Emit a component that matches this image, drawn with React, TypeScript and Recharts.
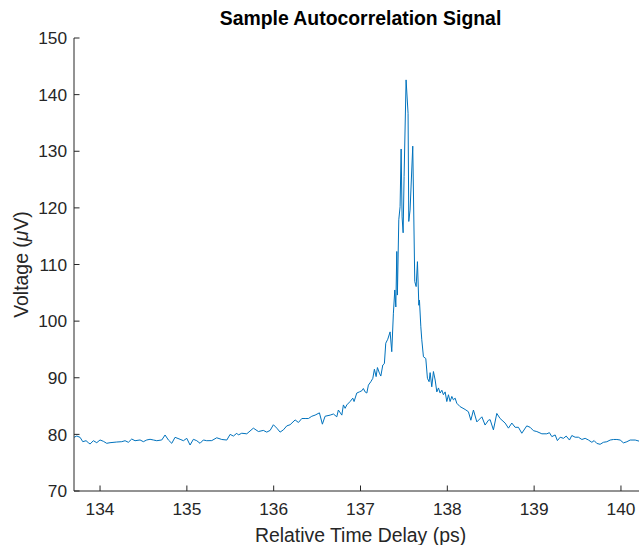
import React from 'react';
import { LineChart, Line, XAxis, YAxis } from 'recharts';

const chartTitle = 'Sample Autocorrelation Signal';
const xAxisTitle = 'Relative Time Delay (ps)';
const yAxisTitlePrefix = 'Voltage (';
const yAxisTitleMu = 'μ';
const yAxisTitleSuffix = 'V)';

const xTicks = [134, 135, 136, 137, 138, 139, 140];
const yTicks = [70, 80, 90, 100, 110, 120, 130, 140, 150];
const xDomain = [133.7, 140.3];
const yDomain = [70, 150];

// Relative time delay (ps)
const delayPs = [
  133.700, 133.732, 133.770, 133.801, 133.839, 133.865, 133.885, 133.923, 133.962, 134.000,
  134.038, 134.077, 134.115, 134.192, 134.250, 134.288, 134.326, 134.365, 134.403, 134.461,
  134.499, 134.538, 134.576, 134.614, 134.653, 134.711, 134.749, 134.787, 134.826, 134.864,
  134.922, 134.960, 134.999, 135.037, 135.075, 135.114, 135.152, 135.190, 135.229,
  135.287, 135.344, 135.402, 135.460, 135.498, 135.536, 135.575, 135.593, 135.632, 135.690,
  135.766, 135.824, 135.881, 135.920, 135.959, 135.997, 136.036, 136.074, 136.112, 136.151,
  136.189, 136.247, 136.285, 136.324, 136.362, 136.400, 136.439, 136.477, 136.527, 136.561,
  136.592, 136.650, 136.688, 136.727, 136.745, 136.785, 136.803,
  136.823, 136.842, 136.880, 136.911, 136.926, 136.957, 136.987, 137.015, 137.033, 137.053,
  137.073, 137.091, 137.119, 137.142, 137.160, 137.180, 137.195, 137.218, 137.234, 137.257,
  137.275, 137.291, 137.314, 137.341, 137.360, 137.379,
  137.395, 137.407, 137.418, 137.425, 137.441, 137.456, 137.468, 137.479, 137.491, 137.502,
  137.525, 137.548, 137.556, 137.571, 137.602, 137.625, 137.641, 137.656, 137.672, 137.679,
  137.695, 137.706, 137.725, 137.752, 137.771, 137.790, 137.802, 137.821, 137.840, 137.860,
  137.879, 137.898, 137.917, 137.937, 137.955, 137.975, 137.994, 138.013, 138.032, 138.052,
  138.070, 138.090, 138.109, 138.147, 138.205, 138.243, 138.271, 138.301, 138.340, 138.398,
  138.435, 138.474, 138.493, 138.531, 138.570, 138.608, 138.666, 138.704, 138.743, 138.781,
  138.819, 138.858, 138.915, 138.954,
  138.992, 139.031, 139.089, 139.146, 139.176, 139.204, 139.242, 139.268, 139.300, 139.338,
  139.369, 139.407, 139.434, 139.472, 139.510, 139.550, 139.588, 139.626, 139.665, 139.691,
  139.722, 139.760, 139.798, 139.837, 139.876, 139.914, 139.953, 139.991, 140.029, 140.068,
  140.106, 140.164, 140.210, 140.256, 140.300,
];

// Voltage (µV)
const voltageUv = [
  79.48, 79.71, 79.48, 78.71, 78.88, 78.53, 78.30, 78.88, 78.53, 79.01,
  78.78, 78.42, 78.53, 78.65, 78.71, 78.88, 78.60, 79.18, 78.88, 79.01,
  78.71, 79.01, 79.13, 79.01, 78.88, 79.01, 79.89, 79.01, 78.42, 79.48,
  79.13, 78.88, 79.30, 78.12, 79.13, 78.88, 78.42, 79.01, 78.88,
  78.9, 79.4, 79.1, 79.0, 80.0, 79.7, 80.2, 79.9, 80.2, 80.1,
  81.1, 80.5, 80.7, 80.4, 80.7, 81.7, 81.1, 80.4, 80.8, 81.5,
  81.7, 82.55, 82.1, 82.8, 82.8, 82.8, 83.2, 83.4, 83.8, 81.8,
  83.2, 83.4, 83.6, 83.1, 84.3, 83.4, 85.2,
  84.6, 85.2, 85.8, 86.4, 85.8, 87.3, 87.5, 87.7, 88.1, 87.5,
  87.3, 88.7, 89.3, 89.9, 91.5, 90.2, 91.8, 90.8, 90.3, 92.25,
  92.5, 96.1, 96.8, 98.1, 94.6, 101.4,
  105.5, 102.5, 112.3, 104.6, 117.9, 120.2, 130.4, 118.4, 115.6, 125.5,
  142.6, 136.7, 117.6, 119.6, 130.9, 107.0, 106.1, 110.5, 102.8, 103.7,
  99.0, 96.7, 93.7, 93.4, 89.9, 89.3, 90.9, 88.4, 91.1, 89.6,
  87.5, 88.2, 87.3, 87.8, 87.0, 87.5, 85.8, 87.0, 85.8, 86.7,
  86.1, 86.4, 85.5, 84.9, 84.4, 84.0, 82.5, 84.3, 82.2, 83.1,
  81.65, 82.5, 82.6, 80.8, 83.7, 82.8, 82.0, 81.1, 82.0, 81.25,
  81.25, 80.2, 81.5, 81.25,
  80.65, 80.5, 80.1, 80.1, 80.3, 79.6, 79.9, 78.9, 79.5, 79.3,
  79.7, 79.0, 79.8, 79.5, 79.5, 79.1, 79.3, 79.0, 78.6, 78.9,
  78.4, 78.25, 78.6, 78.7, 79.0, 79.1, 79.1, 79.0, 78.5, 78.7,
  79.0, 79.0, 78.8, 78.8, 78.9,
];

const FONT = '"Liberation Sans", Arial, Helvetica, sans-serif';
const AXIS_COLOR = '#262626';
const LINE_COLOR = '#0072BD';

export default function App() {
  const data = delayPs.map((x, i) => ({ x, y: voltageUv[i] }));
  const tickStyle = { fill: AXIS_COLOR, fontSize: 17.3, fontFamily: FONT };
  return (
    <div style={{ position: 'relative', width: 639, height: 545, overflow: 'hidden', background: '#ffffff' }}>
      <style>{`html,body{margin:0;padding:0;background:#fff;}`}</style>
      <LineChart
        width={647}
        height={545}
        data={data}
        margin={{ top: 38, right: 0, bottom: 0, left: 0 }}
      >
        <XAxis
          xAxisId="bottom"
          dataKey="x"
          type="number"
          domain={xDomain}
          ticks={xTicks}
          allowDataOverflow
          orientation="bottom"
          height={54}
          tickSize={-5.5}
          tickMargin={17.5}
          stroke={AXIS_COLOR}
          tick={tickStyle}
        />
        <XAxis
          xAxisId="top"
          dataKey="x"
          type="number"
          domain={xDomain}
          ticks={xTicks}
          allowDataOverflow
          orientation="top"
          height={0}
          tickSize={-5.5}
          tick={false}
          stroke={AXIS_COLOR}
        />
        <YAxis
          yAxisId="left"
          type="number"
          domain={yDomain}
          ticks={yTicks}
          allowDataOverflow
          width={74}
          tickSize={-5.5}
          tickMargin={12.5}
          stroke={AXIS_COLOR}
          tick={tickStyle}
        />
        <Line
          xAxisId="bottom"
          yAxisId="left"
          type="linear"
          dataKey="y"
          stroke={LINE_COLOR}
          strokeWidth={1}
          dot={false}
          activeDot={false}
          isAnimationActive={false}
        />
      </LineChart>
      <svg
        width={639}
        height={545}
        style={{ position: 'absolute', left: 0, top: 0, pointerEvents: 'none' }}
      >
        <text
          x={360.5}
          y={25}
          textAnchor="middle"
          fontFamily={FONT}
          fontSize={19.4}
          fontWeight="bold"
          fill="#000000"
        >
          {chartTitle}
        </text>
        <text
          x={360.5}
          y={541.5}
          textAnchor="middle"
          fontFamily={FONT}
          fontSize={19.4}
          fill={AXIS_COLOR}
        >
          {xAxisTitle}
        </text>
        <text
          x={28}
          y={264.5}
          textAnchor="middle"
          transform="rotate(-90 28 264.5)"
          fontFamily={FONT}
          fontSize={19.4}
          fill={AXIS_COLOR}
        >
          {yAxisTitlePrefix}
          <tspan fontStyle="italic">{yAxisTitleMu}</tspan>
          {yAxisTitleSuffix}
        </text>
      </svg>
    </div>
  );
}
